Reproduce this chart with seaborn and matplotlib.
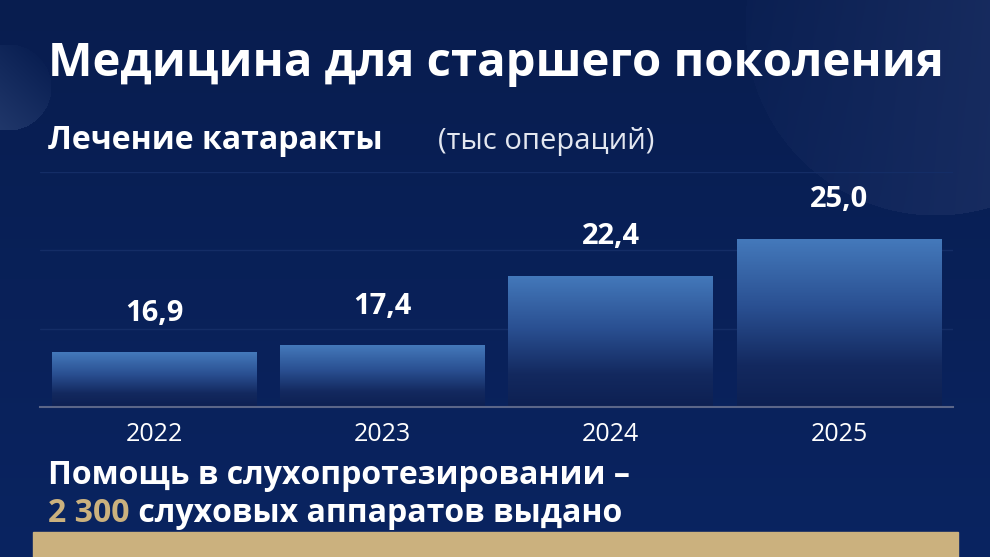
import numpy as np
import matplotlib
matplotlib.use("Agg")
import matplotlib.pyplot as plt
import seaborn as sns
from matplotlib.colors import to_rgb, LinearSegmentedColormap
from matplotlib.patches import Rectangle

years = ["2022", "2023", "2024", "2025"]
operations = [16.9, 17.4, 22.4, 25.0]
value_labels = ["16,9", "17,4", "22,4", "25,0"]

title = "Медицина для старшего поколения"
subtitle = "Лечение катаракты"
unit = "(тыс операций)"
footer_line1 = "Помощь в слухопротезировании –"
footer_number = "2 300"
footer_rest = " слуховых аппаратов выдано"

W, H = 990, 557
GOLD = "#cbb17e"

sns.set_theme(style="white")
plt.rcParams["font.family"] = ["Open Sans", "DejaVu Sans"]

fig = plt.figure(figsize=(W / 100, H / 100), dpi=100)

# background: navy gradient with two soft circles
yy, xx = np.mgrid[0:H, 0:W]
top_c = np.array(to_rgb("#081d4f"))
bot_c = np.array(to_rgb("#0a2461"))
t = (yy / H)[..., None]
img = top_c * (1 - t) + bot_c * t

d = np.hypot(xx - 935, yy - 25)
mask = (d < 190)[..., None]
shade = np.clip((xx - 740) / 250, 0, 1)[..., None]
circ = np.array(to_rgb("#1c3064"))
mix = 0.12 + 0.6 * shade
img = np.where(mask, img * (1 - mix) + circ * mix, img)

d2 = np.hypot(xx - 8, yy - 87)
mask2 = (d2 < 43)[..., None]
s2 = np.clip(0.5 + ((yy - 87) - (xx - 8)) / 120, 0, 1)[..., None]
circ2 = np.array(to_rgb("#2b4274"))
mix2 = 0.05 + 0.7 * s2
img = np.where(mask2, img * (1 - mix2) + circ2 * mix2, img)

ax_bg = fig.add_axes([0, 0, 1, 1])
ax_bg.imshow(img, extent=[0, W, H, 0], aspect="auto")
ax_bg.set_axis_off()

# main chart
ax = fig.add_axes([40 / W, (H - 407) / H, 913 / W, 235 / H])
ax.patch.set_alpha(0)
sns.barplot(x=years, y=operations, ax=ax, width=0.895, color="#3f6fb0",
            saturation=1, zorder=2)

ymin, ymax = 13, 29.8
ax.set_ylim(ymin, ymax)
ax.set_xlim(-0.5, 3.5)
ax.set_yticks(np.linspace(ymin, ymax, 4))
ax.set_yticklabels([])
ax.tick_params(axis="y", length=0)
ax.yaxis.grid(True, color="#142d66", lw=1)
ax.set_axisbelow(True)
for side in ["top", "left", "right"]:
    ax.spines[side].set_visible(False)
ax.spines["bottom"].set_color("#5b6688")
ax.spines["bottom"].set_linewidth(1.5)
ax.spines["bottom"].set_zorder(3)
ax.tick_params(axis="x", colors="white", labelsize=18, length=0, pad=11)
ax.set_xlabel("")
ax.set_ylabel("")

cmap = LinearSegmentedColormap.from_list(
    "bar", [(0, "#0d2052"), (0.25, "#13295f"), (0.6, "#2a5092"), (1, "#4479bb")])
grad = np.linspace(0, 1, 256).reshape(-1, 1)
for p in ax.patches:
    bb = p.get_bbox()
    im = ax.imshow(grad, extent=[bb.x0, bb.x1, max(bb.y0, ymin), bb.y1],
                   aspect="auto", cmap=cmap, origin="lower", zorder=2)
    im.set_clip_path(p)
    p.set_facecolor("none")
    p.set_edgecolor("none")
ax.set_ylim(ymin, ymax)
ax.set_xlim(-0.5, 3.5)

for i, (v, lab) in enumerate(zip(operations, value_labels)):
    ax.annotate(lab, (i, v), xytext=(0, 23), textcoords="offset points",
                ha="center", va="baseline", color="white", fontsize=21,
                fontweight="bold")

# texts
fig.text(48 / W, 1 - 76 / H, title, fontsize=34, fontweight="bold",
         color="white", va="baseline")
fig.text(48 / W, 1 - 149 / H, subtitle, fontsize=23, fontweight="bold",
         color="white", va="baseline")
fig.text(438 / W, 1 - 149 / H, unit, fontsize=21, color="#e3e7f0",
         va="baseline")
fig.text(48 / W, 1 - 484 / H, footer_line1, fontsize=23, fontweight="bold",
         color="white", va="baseline")
num = fig.text(48 / W, 1 - 522 / H, footer_number, fontsize=23,
               fontweight="bold", color=GOLD, va="baseline")
fig.canvas.draw()
bb = num.get_window_extent()
fig.text(bb.x1 / W, 1 - 522 / H, footer_rest, fontsize=23, fontweight="bold",
         color="white", va="baseline")

fig.add_artist(Rectangle((33 / W, 0), 925 / W, 25 / H,
                         transform=fig.transFigure, color=GOLD, zorder=5))

fig.savefig("out.png", dpi=100)
